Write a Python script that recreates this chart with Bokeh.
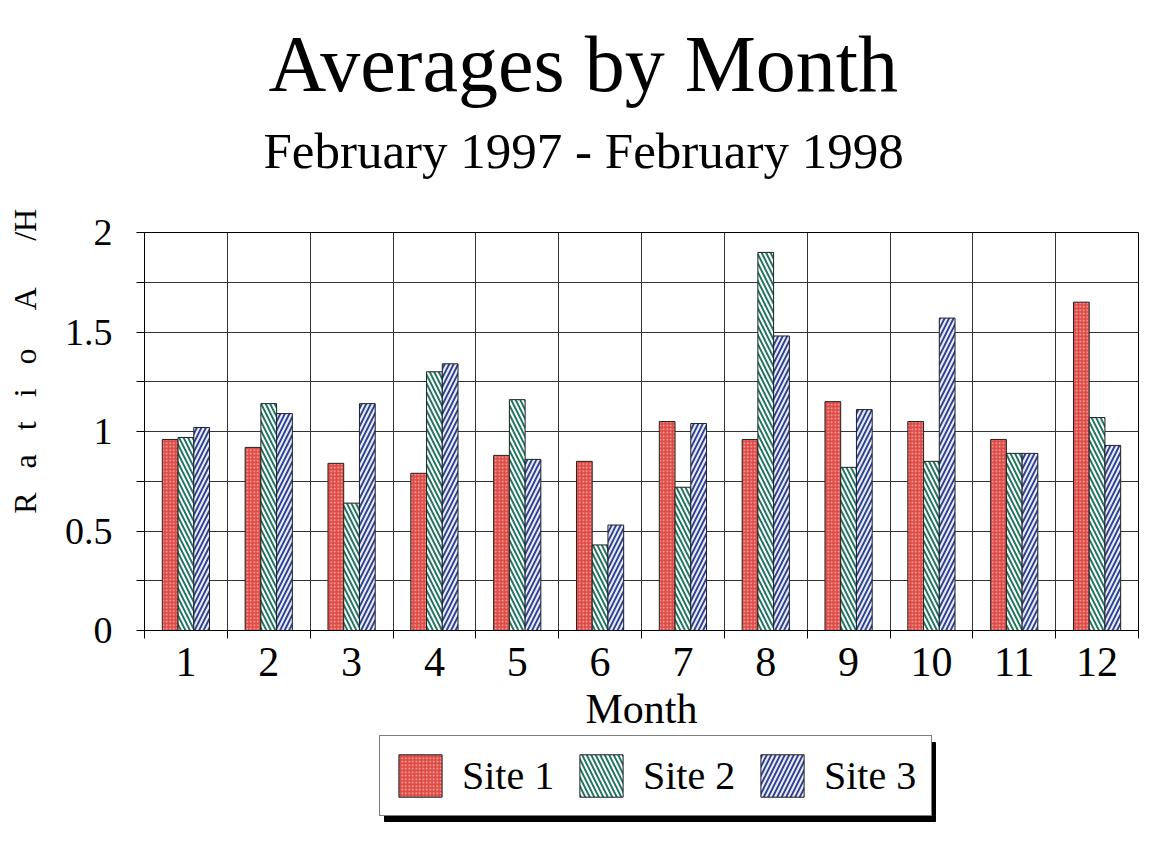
from bokeh.plotting import figure
from bokeh.layouts import column
from bokeh.models import (FixedTicker, Legend, LegendItem, Title, ColumnDataSource,
                          BoxAnnotation)
from bokeh.transform import dodge
from bokeh.embed import file_html
from bokeh.resources import INLINE

# ---- data ----
months = [1, 2, 3, 4, 5, 6, 7, 8, 9, 10, 11, 12]
month_labels = ["1", "2", "3", "4", "5", "6", "7", "8", "9", "10", "11", "12"]
site1 = [0.96, 0.92, 0.84, 0.79, 0.88, 0.85, 1.05, 0.96, 1.15, 1.05, 0.96, 1.65]
site2 = [0.97, 1.14, 0.64, 1.30, 1.16, 0.43, 0.72, 1.90, 0.82, 0.85, 0.89, 1.07]
site3 = [1.02, 1.09, 1.14, 1.34, 0.86, 0.53, 1.04, 1.48, 1.11, 1.57, 0.89, 0.93]
series_names = ["Site 1", "Site 2", "Site 3"]
y_ticks = [0, 0.5, 1, 1.5, 2]
y_tick_labels = ["0", "0.5", "1", "1.5", "2"]
y_minor = [0.25, 0.75, 1.25, 1.75]

FONT = "Liberation Serif"

styles = [
    dict(fill_color="#de4b46", line_color="#222222", line_width=1,
         hatch_pattern="dot", hatch_color="#f7b8b2", hatch_scale=3.5, hatch_weight=1.2),
    dict(fill_color="#28705f", line_color="#222222", line_width=1,
         hatch_pattern="left_diagonal_line", hatch_color="#f4fffc",
         hatch_scale=9, hatch_weight=2.1),
    dict(fill_color="#31418a", line_color="#222222", line_width=1,
         hatch_pattern="right_diagonal_line", hatch_color="#e6ecff",
         hatch_scale=9, hatch_weight=2.1),
]
columns = ["s1", "s2", "s3"]
offsets = [-0.19, 0.0, 0.19]
bw = 0.19

src = ColumnDataSource(dict(month=months, s1=site1, s2=site2, s3=site3))

p = figure(frame_width=994, frame_height=398,
           min_border_left=144, min_border_right=8,
           min_border_top=232, min_border_bottom=100,
           x_range=(0.5, 12.5), y_range=(0, 2), title=None,
           output_backend="svg", toolbar_location=None,
           background_fill_color="white", border_fill_color="white")

p.outline_line_color = "black"
p.outline_line_width = 1

bounds = [m + 0.5 for m in [0] + months]

# axes
p.xaxis.ticker = FixedTicker(ticks=months, minor_ticks=bounds)
p.xaxis.major_label_overrides = {m: l for m, l in zip(months, month_labels)}
p.xaxis.major_tick_out = 0
p.xaxis.major_tick_in = 0
p.xaxis.minor_tick_out = 8
p.xaxis.minor_tick_in = 0
p.xaxis.major_label_standoff = 9
p.xaxis.axis_label = "Month"
p.xaxis.axis_label_standoff = 7
p.xaxis.axis_label_text_font_size = "42px"
p.yaxis.ticker = FixedTicker(ticks=y_ticks, minor_ticks=y_minor)
p.yaxis.major_label_overrides = {t: l for t, l in zip(y_ticks, y_tick_labels)}
p.yaxis.major_tick_out = 8
p.yaxis.major_tick_in = 0
p.yaxis.minor_tick_out = 8
p.yaxis.minor_tick_in = 0
p.yaxis.major_label_standoff = 24
p.yaxis.axis_label = ("\u2003\u2003\u2003\u2003\u2002"
                      "R \u2002a \u2002t \u2002i \u2002o\u2003 A \u2003 /H")
p.yaxis.axis_label_standoff = 19
p.yaxis.axis_label_text_font_size = "32px"
for ax in (p.xaxis[0], p.yaxis[0]):
    ax.axis_line_color = "black"
    ax.major_tick_line_color = "black"
    ax.minor_tick_line_color = "black"
    ax.major_label_text_font = FONT
    ax.major_label_text_color = "black"
    ax.axis_label_text_font = FONT
    ax.axis_label_text_font_style = "normal"
    ax.axis_label_text_color = "black"
p.xaxis.major_label_text_font_size = "42px"
p.yaxis.major_label_text_font_size = "38px"

# grids
p.xgrid.ticker = FixedTicker(ticks=bounds)
p.xgrid.grid_line_color = "#333333"
p.xgrid.grid_line_width = 1
p.ygrid.grid_line_color = "#333333"
p.ygrid.grid_line_width = 1
p.ygrid.minor_grid_line_color = "#333333"
p.ygrid.minor_grid_line_width = 1

for col, off, st in zip(columns, offsets, styles):
    p.vbar(x=dodge("month", off, range=p.x_range), top=col, width=bw, source=src, **st)

# titles (first added sits nearest the frame)
p.add_layout(Title(text="February 1997 - February 1998", text_font=FONT,
                   text_font_size="51px", text_font_style="normal", align="left",
                   offset=119, text_color="black", standoff=108), "above")
p.add_layout(Title(text="Averages by Month", text_font=FONT,
                   text_font_size="80px", text_font_style="normal", align="left",
                   offset=124, text_color="black", standoff=-83), "above")

# ---- legend strip below the chart (its frame is aligned with the chart frame) ----
lg = figure(width=1146, height=88, min_border=0, x_axis_type=None, y_axis_type=None,
            x_range=(0.5, 12.5), y_range=(5, 6),
            output_backend="svg", toolbar_location=None,
            background_fill_color="white", border_fill_color="white")
lg.outline_line_color = None
lg.grid.visible = False
# same bars, drawn outside this strip's visible range: only used as legend proxies
leg_renderers = [lg.vbar(x=dodge("month", off, range=lg.x_range), top=col, width=bw,
                         source=src, **st)
                 for col, off, st in zip(columns, offsets, styles)]

# shadow behind the legend box
lg.add_layout(BoxAnnotation(left=240, right=791, bottom=1, top=80,
                            left_units="screen", right_units="screen",
                            bottom_units="screen", top_units="screen",
                            fill_color="black", fill_alpha=1, line_color="black",
                            line_alpha=1))

legend = Legend(items=[LegendItem(label=n, renderers=[r])
                       for n, r in zip(series_names, leg_renderers)],
                orientation="horizontal", location=(235, 6), margin=0,
                glyph_width=54, glyph_height=53,
                label_standoff=15, spacing=18, padding=13, label_width=94,
                label_text_font=FONT, label_text_font_size="40px",
                label_text_color="black",
                border_line_color="black", border_line_width=1.5,
                background_fill_color="white", background_fill_alpha=1)
lg.add_layout(legend)

open("out.html", "w").write(file_html(column(p, lg, spacing=0), INLINE))
